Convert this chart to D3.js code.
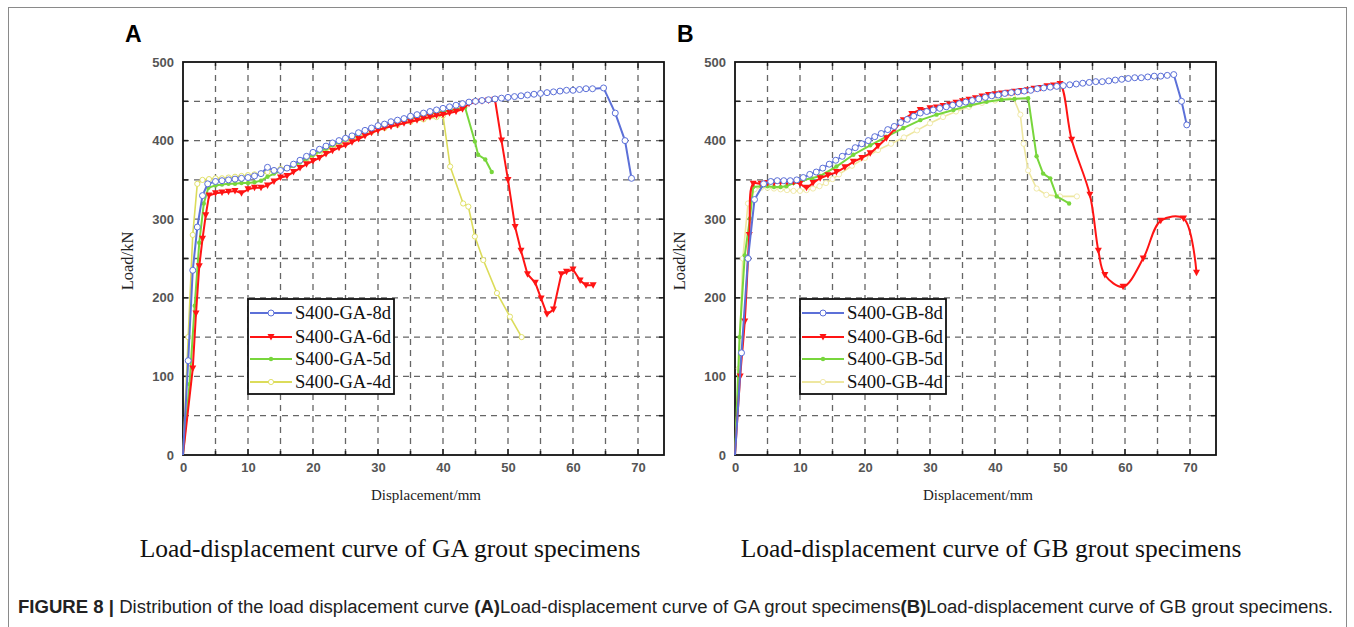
<!DOCTYPE html>
<html><head><meta charset="utf-8">
<script src="https://cdn.jsdelivr.net/npm/d3@7"></script>
<style>body{margin:0;background:#fff}svg{display:block}</style>
</head><body>
<svg id="c" width="1354" height="627"></svg>
<script>
// ---------- data ----------
const xTicks = [0,10,20,30,40,50,60,70];
const yTicks = [0,100,200,300,400,500];
const seriesNamesA = ["S400-GA-8d","S400-GA-6d","S400-GA-5d","S400-GA-4d"];
const seriesNamesB = ["S400-GB-8d","S400-GB-6d","S400-GB-5d","S400-GB-4d"];

const gA8 = [[0,0],[0.8,120],[1.5,235],[2.2,290],[3,330],[3.8,345],[5,348],[6,349],[7,350],[8,351],[9,352],[10,353],[11,355],[12,358],[13,366],[14,362],[15,362],[16,365],[17,370],[18,375],[19,380],[20,385],[21,389],[22,393],[23,397],[24,400],[25,403],[26,406],[27,410],[28,413],[29,416],[30,419],[31,421],[32,424],[33,426],[34,428],[35,431],[36,433],[37,435],[38,437],[39,439],[40,441],[41,443],[42,445],[43,447],[44,449],[45,450],[46,451],[47,452],[48,453],[49,454],[50,455],[51,456],[52,457],[53,458],[54,459],[55,460],[56,461],[57,462],[58,463],[59,464],[60,464],[61,465],[62,466],[63,466],[64.7,467],[66.5,435],[68,400],[69,352]];
const gA6 = [[0,0],[1.5,110],[2,180],[2.5,240],[3,275],[3.5,305],[4,330],[5,333],[6,334],[7,335],[8,336],[9,333],[10,338],[11,340],[12,340],[13,343],[14,348],[15,353],[16,355],[17,360],[18,365],[19,370],[20,374],[21,378],[22,383],[23,387],[24,391],[25,394],[26,398],[27,402],[28,406],[29,410],[30,413],[31,416],[32,418],[33,420],[34,422],[35,424],[36,426],[37,428],[38,430],[39,432],[40,433],[41,435],[42,437],[43,440],[44,447],[45,449],[46,450],[47,451],[48,452],[49,400],[50,350],[51.1,290],[52,260],[53,230],[54.2,219],[55.1,199],[56,179],[57,185],[58.2,230],[59,233],[60,236],[61.1,222],[62,216],[63.1,216]];
const gA5 = [[0,0],[1,90],[1.8,190],[2.5,270],[3.2,320],[3.9,340],[5,343],[6,344],[7,345],[8,345],[9,346],[10,346],[11,347],[12,349],[13,354],[14,358],[15,361],[16,364],[17,368],[18,372],[19,377],[20,382],[21,386],[22,390],[23,394],[24,398],[25,401],[26,405],[27,408],[28,412],[29,415],[30,418],[31,420],[32,422],[33,424],[34,426],[35,428],[36,430],[37,432],[38,434],[39,435],[40,437],[41,438],[42,440],[43.4,442],[44.9,399],[45.4,382],[46.5,376],[47.5,360]];
const gA4 = [[0,0],[0.8,150],[1.5,280],[2.2,345],[3,350],[4,351],[5,352],[6,352],[7,353],[8,354],[9,355],[10,356],[11,357],[12,358],[13,360],[14,362],[15,364],[17,369],[19,376],[21,384],[23,391],[25,398],[27,405],[29,411],[31,416],[33,420],[35,424],[37,427],[39,430],[40,432],[41.1,367],[43.1,320],[43.9,316],[44.9,278],[46.2,248],[48.3,206],[50.3,176],[52.1,150]];

const gB8 = [[0,0],[1,130],[2,250],[3,325],[4.4,345],[5.5,348],[6.5,349],[7.5,349],[8.5,349],[9.5,350],[10.5,353],[11.5,357],[12.5,360],[13.5,365],[14.5,370],[15.5,375],[16.5,380],[17.5,386],[18.5,391],[19.5,396],[20.5,400],[21.5,405],[22.5,409],[23.5,414],[24.5,418],[25.5,423],[26.5,427],[27.5,431],[28.5,435],[29.5,437],[30.5,439],[31.5,441],[32.5,443],[33.5,445],[34.5,447],[35.5,449],[36.5,451],[37.5,453],[38.5,455],[39.5,457],[40.5,458],[41.5,460],[42.5,461],[43.5,462],[44.5,463],[45.5,464],[46.5,466],[47.5,467],[48.5,468],[49.5,469],[50.5,470],[51.5,471],[52.5,472],[53.5,473],[54.5,474],[55.5,475],[56.5,475],[57.5,476],[58.5,477],[59.5,478],[60.5,479],[61.5,480],[62.5,480],[63.5,481],[64.5,482],[65.5,482],[66.5,483],[67.5,484],[68.7,450],[69.5,420]];
const gB6 = [[0,0],[0.8,100],[1.5,170],[2.2,280],[2.8,345],[4,345],[5,346],[6,346],[7,347],[8,347],[9,347],[10,345],[11,340],[12,346],[13.1,352],[14.3,356],[15.6,360],[16.9,366],[18.2,373],[19.5,378],[20.8,384],[22,393],[23.3,403],[24.6,415],[25.9,426],[27.2,434],[28.5,439],[30,441],[31,442],[32,444],[33,446],[34,448],[35,450],[36,452],[37,454],[38,456],[39,458],[40,459],[41,460],[42,461],[43,462],[44,463],[45,464],[46,466],[47,467],[48,469],[49,470],[50,472],[51.8,401],[54.6,331],[55.9,260],[56.9,229],[59.7,214],[62.8,250],[65.5,298],[69,301],[71,232]];
const gB5 = [[0,0],[0.7,150],[1.5,254],[2.3,301],[2.8,341],[4,342],[5,342],[6,341],[7,341],[7.9,342],[9,346],[10.5,350],[11.8,352],[13.1,355],[15.6,367],[18.2,382],[20.8,394],[23.3,405],[25.9,416],[28.5,426],[31,433],[33.6,439],[36.2,445],[38.7,449.5],[41,452],[43,453],[45.1,454],[46.4,380],[47.4,358],[48.5,352],[49.5,329],[51.4,320]];
const gB4 = [[0,0],[0.6,110],[1.2,250],[2,320],[3,338],[4,340],[5,340],[6,339],[7,338],[8,337],[9,336],[10,336],[11,337],[12,339],[13,342],[14,346],[15,351],[16,357],[18,368],[20,378],[22,388],[24,396],[26,404],[28,413],[30,422],[32,430],[34,437],[36,443],[38,448],[40,451],[42.8,455],[43.9,433],[44.4,396],[45.1,362],[46.4,339],[47.9,331],[50,329],[52.6,329]];

// ---------- drawing ----------
const svg = d3.select("#c");
svg.append("rect").attr("x",8.5).attr("y",7.5).attr("width",1338).attr("height",700)
  .attr("fill","none").attr("stroke","#8a8a8a").attr("stroke-width",1);

const styles = [
  {color:"#5c70d8", marker:"circle"},
  {color:"#ff1414", marker:"tri"},
  {color:"#78d63c", marker:"dot"},
  {color:"#dcdc5a", marker:"ocircle"}
];
const serif = "'Liberation Serif','Times New Roman',serif";

function drawPanel(opt){
  const xMax = 74;
  const x = d3.scaleLinear().domain([0,xMax]).range([opt.left, opt.left+xMax*6.5]);
  const y = d3.scaleLinear().domain([0,500]).range([455,62]);
  const g = svg.append("g");
  const [x0,x1] = x.range(), [y0,y1] = y.range();
  const gx = d3.range(5,71,5), gy = d3.range(50,500,50);
  g.append("g").selectAll("line").data(gx).join("line")
    .attr("x1",d=>x(d)).attr("x2",d=>x(d)).attr("y1",y0).attr("y2",y1)
    .attr("stroke","#666").attr("stroke-width",1.3).attr("stroke-dasharray","6,5");
  g.append("g").selectAll("line").data(gy).join("line")
    .attr("y1",d=>y(d)).attr("y2",d=>y(d)).attr("x1",x0).attr("x2",x1)
    .attr("stroke","#666").attr("stroke-width",1.3).attr("stroke-dasharray","6,5");
  const ax = d3.axisBottom(x).tickValues(xTicks).tickSize(0).tickPadding(8).tickFormat(d3.format("d"));
  const ay = d3.axisLeft(y).tickValues(yTicks).tickSize(0).tickPadding(9);
  const gxa = g.append("g").attr("transform",`translate(0,${y0})`).call(ax);
  const gya = g.append("g").attr("transform",`translate(${x0},0)`).call(ay);
  [gxa,gya].forEach(a=>{a.select(".domain").remove();
    a.selectAll("text").attr("font-family","Arial, 'Liberation Sans', sans-serif").attr("font-size",13).attr("font-weight","bold").attr("fill","#555");});
  const tk = g.append("g").attr("stroke","#222").attr("stroke-width",1.5);
  d3.range(5,71,5).forEach(v=>{const L = v%10===0?6:4;
    tk.append("line").attr("x1",x(v)).attr("x2",x(v)).attr("y1",y0).attr("y2",y0-L);
    tk.append("line").attr("x1",x(v)).attr("x2",x(v)).attr("y1",y1).attr("y2",y1+L);});
  d3.range(50,500,50).forEach(v=>{
    tk.append("line").attr("y1",y(v)).attr("y2",y(v)).attr("x1",x0).attr("x2",x0+5);
    tk.append("line").attr("y1",y(v)).attr("y2",y(v)).attr("x1",x1).attr("x2",x1-5);});
  g.append("rect").attr("x",x0).attr("y",y1).attr("width",x1-x0).attr("height",y0-y1)
    .attr("fill","none").attr("stroke","#111").attr("stroke-width",1.8);

  [3,2,1,0].forEach(i=>{
    const st = styles[i], data = opt.series[i];
    const col = opt.colors ? opt.colors[i] : st.color;
    const curve = opt.curves && opt.curves[i] ? opt.curves[i] : d3.curveLinear;
    const line = d3.line().x(d=>x(d[0])).y(d=>y(d[1])).curve(curve);
    g.append("path").datum(data).attr("d",line).attr("fill","none")
      .attr("stroke",col).attr("stroke-width",i===3?1.6:2);
    data.slice(1).forEach(d=>drawMarkerAt(g, x(d[0]), y(d[1]), st.marker, col));
  });

  const lx = opt.left+65, ly = 299;
  const lg = g.append("g");
  lg.append("rect").attr("x",lx).attr("y",ly).attr("width",146).attr("height",95)
    .attr("fill","#fff").attr("stroke","#111").attr("stroke-width",1.8);
  const rows = [313,337,359,382];
  opt.names.forEach((nm,i)=>{
    const col = opt.colors ? opt.colors[i] : styles[i].color;
    lg.append("line").attr("x1",lx+2).attr("x2",lx+44).attr("y1",rows[i]).attr("y2",rows[i])
      .attr("stroke",col).attr("stroke-width",2.2);
    drawMarkerAt(lg, lx+23, rows[i], styles[i].marker, col);
    lg.append("text").attr("x",lx+47).attr("y",rows[i]+6).text(nm)
      .attr("font-family",serif).attr("font-size",19).attr("fill","#111")
      .attr("textLength",96).attr("lengthAdjust","spacingAndGlyphs");
  });

  g.append("text").attr("transform",`translate(${opt.left-50},${261}) rotate(-90)`)
    .attr("text-anchor","middle").text("Load/kN")
    .attr("font-family",serif).attr("font-size",16.5).attr("fill","#222");
  g.append("text").attr("x",opt.left+243).attr("y",500).attr("text-anchor","middle").text("Displacement/mm")
    .attr("font-family",serif).attr("font-size",15).attr("fill","#222");
  g.append("text").attr("x",opt.subX).attr("y",557).attr("text-anchor","middle").text(opt.subtitle)
    .attr("font-family",serif).attr("font-size",25.5).attr("fill","#111");
  g.append("text").attr("x",opt.left-58).attr("y",42).text(opt.letter)
    .attr("font-family","Arial,'Liberation Sans',sans-serif").attr("font-size",23).attr("font-weight","bold").attr("fill","#000");
}

function drawMarkerAt(g, px, py, type, col){
  if(type==="circle"){
    g.append("circle").attr("cx",px).attr("cy",py).attr("r",3).attr("fill","#fff").attr("stroke",col).attr("stroke-width",1);
  } else if(type==="tri"){
    g.append("path").attr("d",`M${px-3.5},${py-3}L${px+3.5},${py-3}L${px},${py+3.5}Z`).attr("fill",col);
  } else if(type==="dot"){
    g.append("circle").attr("cx",px).attr("cy",py).attr("r",2.2).attr("fill",col);
  } else {
    g.append("circle").attr("cx",px).attr("cy",py).attr("r",2.6).attr("fill","#fff").attr("stroke",col).attr("stroke-width",0.9);
  }
}

drawPanel({left:183, series:[gA8,gA6,gA5,gA4], names:seriesNamesA, subX:390,
  subtitle:"Load-displacement curve of GA grout specimens", letter:"A"});
drawPanel({left:735, series:[gB8,gB6,gB5,gB4], names:seriesNamesB, subX:991,
  colors:["#5c70d8","#ff1414","#78d63c","#eee7a0"],
  curves:[null,d3.curveCatmullRom,null,null],
  subtitle:"Load-displacement curve of GB grout specimens", letter:"B"});

const cap = svg.append("text").attr("x",18).attr("y",613)
  .attr("font-family","'Liberation Sans',Arial,sans-serif").attr("font-size",18).attr("fill","#222")
  .attr("textLength",1315).attr("lengthAdjust","spacingAndGlyphs");
cap.append("tspan").attr("font-weight","bold").text("FIGURE 8 | ");
cap.append("tspan").text("Distribution of the load displacement curve ");
cap.append("tspan").attr("font-weight","bold").text("(A)");
cap.append("tspan").text("Load-displacement curve of GA grout specimens");
cap.append("tspan").attr("font-weight","bold").text("(B)");
cap.append("tspan").text("Load-displacement curve of GB grout specimens.");
</script>
</body></html>
